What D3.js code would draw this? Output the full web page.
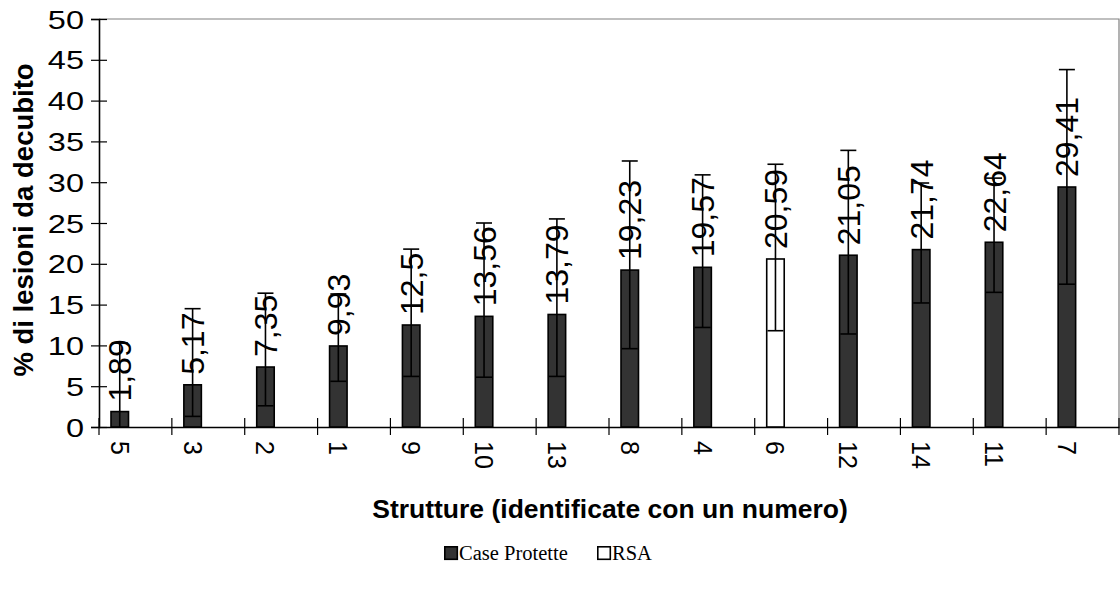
<!DOCTYPE html>
<html>
<head>
<meta charset="utf-8">
<script src="https://cdn.jsdelivr.net/npm/d3@7"></script>
<style>
  body { margin: 0; background: #fff; }
  svg { display: block; font-family: "Liberation Sans", Arial, sans-serif; }
</style>
</head>
<body>
<svg id="chart" width="1120" height="595"></svg>
<script>
// categories (structure numbers), sorted as in the chart
const categories = ["5", "3", "2", "1", "9", "10", "13", "8", "4", "6", "12", "14", "11", "7"];
// % of pressure sores per structure
const values = [1.89, 5.17, 7.35, 9.93, 12.5, 13.56, 13.79, 19.23, 19.57, 20.59, 21.05, 21.74, 22.64, 29.41];
// error bars
const errLow = [0, 1.3, 2.6, 5.6, 6.2, 6.1, 6.2, 9.6, 12.2, 11.8, 11.4, 15.2, 16.5, 17.5];
const errHigh = [10.3, 14.5, 16.4, 16.3, 21.8, 25.0, 25.5, 32.6, 30.9, 32.2, 33.9, 29.9, 30.5, 43.8];
// series each structure belongs to
const seriesNames = ["Case Protette", "RSA"];
const seriesOf = ["Case Protette", "Case Protette", "Case Protette", "Case Protette", "Case Protette",
  "Case Protette", "Case Protette", "Case Protette", "Case Protette", "RSA", "Case Protette",
  "Case Protette", "Case Protette", "Case Protette"];
const yTicks = [0, 5, 10, 15, 20, 25, 30, 35, 40, 45, 50];

const data = categories.map((c, i) => ({
  cat: c, value: values[i], lo: errLow[i], hi: errHigh[i], series: seriesOf[i]
}));

const svg = d3.select("#chart");
const plotL = 99, plotR = 1119, plotT = 19, plotB = 427;

const x = d3.scaleBand().domain(categories).range([plotL, plotR]).padding(0);
const y = d3.scaleLinear().domain([0, 50]).range([plotB, plotT]);
const color = d3.scaleOrdinal().domain(seriesNames).range(["#333333", "#ffffff"]);

const barOff = 12, barW = 17.5;
const cx = d => x(d.cat) + barOff + barW / 2;

// plot frame (grey top / right)
svg.append("path")
  .attr("d", `M${plotL},${plotT}H${plotR}V${plotB}`)
  .attr("fill", "none").attr("stroke", "#808080").attr("stroke-width", 1.2);

// Y axis
const ySx = 1.3;
const yAxis = svg.append("g")
  .attr("transform", `translate(${plotL},0)`)
  .call(d3.axisLeft(y).tickValues(yTicks).tickSize(8).tickPadding(0));
yAxis.select(".domain").attr("stroke", "#000").attr("stroke-width", 1.6);
yAxis.selectAll(".tick line").attr("x1", 8).attr("x2", -8).attr("stroke", "#000").attr("stroke-width", 1.2);
yAxis.selectAll(".tick text")
  .attr("font-size", 25).attr("font-family", "Liberation Sans, Arial, sans-serif")
  .attr("fill", "#000")
  .attr("text-anchor", "end")
  .attr("x", -15 / ySx).attr("dy", "0.36em")
  .attr("transform", `scale(${ySx},1)`);

// X axis: line + crossing ticks at band edges
const xAxis = svg.append("g")
  .attr("transform", `translate(0,${plotB})`)
  .call(d3.axisBottom(x).tickSize(0).tickFormat(""));
xAxis.select(".domain").attr("stroke", "#000").attr("stroke-width", 1.6);
const edges = categories.map(c => x(c)).concat([plotR]);
xAxis.selectAll(".edge").data(edges).join("line")
  .attr("class", "edge")
  .attr("x1", d => d).attr("x2", d => d)
  .attr("y1", -9).attr("y2", 8)
  .attr("stroke", "#000").attr("stroke-width", 1.2);

// category labels, rotated top to bottom
svg.append("g").selectAll("text").data(data).join("text")
  .attr("transform", d => `translate(${cx(d)},441) rotate(90)`)
  .attr("x", 0).attr("y", 9)
  .attr("font-size", 25)
  .text(d => d.cat);

// bars
svg.append("g").selectAll("rect").data(data).join("rect")
  .attr("x", d => x(d.cat) + barOff)
  .attr("y", d => y(d.value))
  .attr("width", barW)
  .attr("height", d => y(0) - y(d.value))
  .attr("fill", d => color(d.series))
  .attr("stroke", "#000").attr("stroke-width", 1.6);

// error bars
const eb = svg.append("g").attr("stroke", "#000").attr("stroke-width", 1.6);
eb.selectAll(".stem").data(data).join("line")
  .attr("x1", cx).attr("x2", cx)
  .attr("y1", d => y(d.lo)).attr("y2", d => y(d.hi));
eb.selectAll(".capHi").data(data).join("line")
  .attr("x1", d => cx(d) - 8).attr("x2", d => cx(d) + 8)
  .attr("y1", d => y(d.hi)).attr("y2", d => y(d.hi));
eb.selectAll(".capLo").data(data.filter(d => d.lo > 0)).join("line")
  .attr("x1", d => cx(d) - 8).attr("x2", d => cx(d) + 8)
  .attr("y1", d => y(d.lo)).attr("y2", d => y(d.lo));

// value labels, rotated bottom to top
svg.append("g").selectAll("text").data(data).join("text")
  .attr("transform", d => `translate(${cx(d)},${y(d.value) - 10}) rotate(-90)`)
  .attr("x", 0).attr("y", 11.5)
  .attr("font-size", 32)
  .text(d => String(d.value).replace(".", ","));

// axis titles
svg.append("text")
  .attr("transform", `translate(33,220) rotate(-90)`)
  .attr("text-anchor", "middle")
  .attr("font-size", 27.5).attr("font-weight", "bold")
  .text("% di lesioni da decubito");

svg.append("text")
  .attr("x", 610).attr("y", 518)
  .attr("text-anchor", "middle")
  .attr("font-size", 26.5).attr("font-weight", "bold")
  .text("Strutture (identificate con un numero)");

// legend
const legX = [444, 597];
const leg = svg.append("g").selectAll("g").data(seriesNames).join("g")
  .attr("transform", (d, i) => `translate(${legX[i]},546)`);
leg.append("rect")
  .attr("x", 0.8).attr("y", 0.8).attr("width", 12.5).attr("height", 12.5)
  .attr("fill", d => color(d)).attr("stroke", "#000").attr("stroke-width", 1.6);
leg.append("text")
  .attr("x", 15).attr("y", 14)
  .attr("font-family", "Liberation Serif, Times New Roman, serif")
  .attr("font-size", 20.5)
  .text(d => d);
</script>
</body>
</html>
